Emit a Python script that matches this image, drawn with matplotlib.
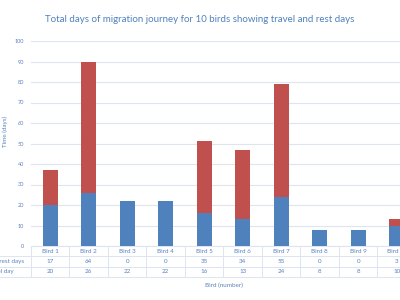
import numpy as np
import matplotlib
matplotlib.use("Agg")
import matplotlib.pyplot as plt

plt.rcParams['font.family'] = ['Lato', 'DejaVu Sans']

# data
birds = ['Bird 1', 'Bird 2', 'Bird 3', 'Bird 4', 'Bird 5',
         'Bird 6', 'Bird 7', 'Bird 8', 'Bird 9', 'Bird 10']
rest_days = [17, 64, 0, 0, 35, 34, 55, 0, 0, 3]
travel_days = [20, 26, 22, 22, 16, 13, 24, 8, 8, 10]
row_labels = ['Non-rest days', 'Travel day']
yticks = list(range(0, 101, 10))

blue = '#4f81bd'
red = '#c0504d'
text_col = '#5a82bd'
grid_col = '#dde5f0'

fig = plt.figure(figsize=(4, 3), dpi=100)
fig.patch.set_facecolor('white')
# plot area runs past the right edge, like the cropped original
ax = fig.add_axes([31/400, 54/300, 385/400, 205/300])

x = np.arange(len(birds))
ax.bar(x, travel_days, width=0.4, color=blue, zorder=3)
ax.bar(x, rest_days, width=0.4, bottom=travel_days, color=red, zorder=3)

ax.set_xlim(-0.5, len(birds) - 0.5)
ax.set_ylim(0, 100)
ax.set_yticks(yticks)
ax.tick_params(axis='y', length=0, pad=5, labelsize=4, labelcolor=text_col)
ax.tick_params(axis='x', length=0, labelbottom=False)
ax.yaxis.grid(True, color=grid_col, linewidth=0.8, zorder=0)
for s in ['top', 'right', 'left']:
    ax.spines[s].set_visible(False)
ax.spines['bottom'].set_color(grid_col)

ax.set_ylabel('Time (days)', fontsize=4.5, color=text_col)
ax.yaxis.set_label_coords(-0.06, 0.56)
ax.set_xlabel('Bird (number)', fontsize=4.5, color=text_col)
ax.xaxis.set_label_coords(0.5, -0.18)

# data table under the axis
lab_w = 47 / 385
cell_w = 1 / len(birds)
cells = [[''] + birds,
         [row_labels[0]] + [str(v) for v in rest_days],
         [row_labels[1]] + [str(v) for v in travel_days]]
tab = ax.table(cellText=cells, colWidths=[lab_w] + [cell_w] * len(birds),
               cellLoc='center', bbox=[-lab_w, -31/205, 1 + lab_w, 31/205])
tab.auto_set_font_size(False)
tab.set_fontsize(4.5)
for (r, c), cell in tab.get_celld().items():
    cell.set_edgecolor(grid_col)
    cell.set_linewidth(0.7)
    cell.get_text().set_color(text_col)
    cell.set_facecolor('none')
    if c == 0:
        cell._loc = 'left'
        cell.PAD = 0.02
        cell.get_text().set_ha('left')
        if r == 0:
            cell.visible_edges = ''
        else:
            cell.visible_edges = 'BTR'

fig.text(0.5, 1 - 20/300, 'Total days of migration journey for 10 birds showing travel and rest days',
         ha='center', va='center', fontsize=7, color=blue)

fig.savefig('out.png', dpi=100, facecolor='white')
